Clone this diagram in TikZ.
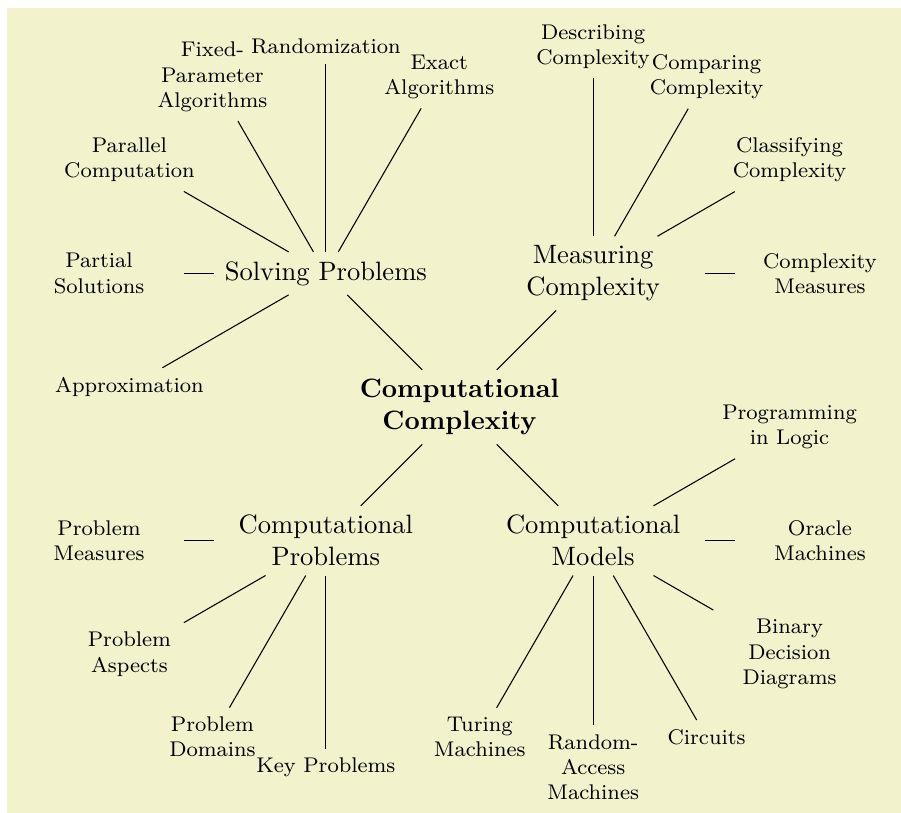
\documentclass[tikz,border=0pt]{standalone}
\usetikzlibrary{calc}
\definecolor{bgyellow}{RGB}{242,243,204}
\begin{document}
\begin{tikzpicture}[
  lone/.style={text width=2.7cm, align=flush center},
  ltwo/.style={text width=2cm, align=flush center, font=\footnotesize},
  link/.style={draw=black}
]
\useasboundingbox (-6.078,-5.357) rectangle (5.840,5.384);
\fill[bgyellow] (-5.985,-5.6) rectangle (6.1,5.278);
\node[lone, font=\bfseries] (root) at (0,0) {Computational Complexity};
\node[lone] (CP) at (225:2.5) {Computational Problems};
\node[lone] (CM) at (315:2.5) {Computational Models};
\node[lone] (MC) at (45:2.5) {Measuring Complexity};
\node[lone] (SP) at (135:2.5) {Solving Problems};
% Computational Problems
\node[ltwo] (cp1) at ($(CP)+(180:3)$) {Problem Measures};
\node[ltwo] (cp2) at ($(CP)+(210:3)$) {Problem Aspects};
\node[ltwo] (cp3) at ($(CP)+(240:3)$) {Problem Domains};
\node[ltwo] (cp4) at ($(CP)+(270:3)$) {Key Problems};
% Computational Models
\node[ltwo] (cm1) at ($(CM)+(240:3)$) {Turing Machines};
\node[ltwo] (cm2) at ($(CM)+(270:3)$) {Random-Access Machines};
\node[ltwo] (cm3) at ($(CM)+(300:3)$) {Circuits};
\node[ltwo] (cm4) at ($(CM)+(330:3)$) {Binary Decision Diagrams};
\node[ltwo] (cm5) at ($(CM)+(0:3)$) {Oracle Machines};
\node[ltwo] (cm6) at ($(CM)+(30:3)$) {Programming in Logic};
% Measuring Complexity
\node[ltwo] (mc1) at ($(MC)+(0:3)$) {Complexity Measures};
\node[ltwo] (mc2) at ($(MC)+(30:3)$) {Classifying Complexity};
\node[ltwo] (mc3) at ($(MC)+(60:3)$) {Comparing Complexity};
\node[ltwo] (mc4) at ($(MC)+(90:3)$) {Describing Complexity};
% Solving Problems
\node[ltwo] (sp1) at ($(SP)+(60:3)$) {Exact Algorithms};
\node[ltwo] (sp2) at ($(SP)+(90:3)$) {Randomization};
\node[ltwo] (sp3) at ($(SP)+(120:3)$) {Fixed-Parameter Algorithms};
\node[ltwo] (sp4) at ($(SP)+(150:3)$) {Parallel Computation};
\node[ltwo] (sp5) at ($(SP)+(180:3)$) {Partial Solutions};
\node[ltwo] (sp6) at ($(SP)+(210:3)$) {Approximation};
% connectors
\foreach \c in {CP,CM,MC,SP} \draw[link] (root) -- (\c);
\foreach \c in {cp1,cp2,cp3,cp4} \draw[link] (CP) -- (\c);
\foreach \c in {cm1,cm2,cm3,cm4,cm5,cm6} \draw[link] (CM) -- (\c);
\foreach \c in {mc1,mc2,mc3,mc4} \draw[link] (MC) -- (\c);
\foreach \c in {sp1,sp2,sp3,sp4,sp5,sp6} \draw[link] (SP) -- (\c);
\end{tikzpicture}
\end{document}
